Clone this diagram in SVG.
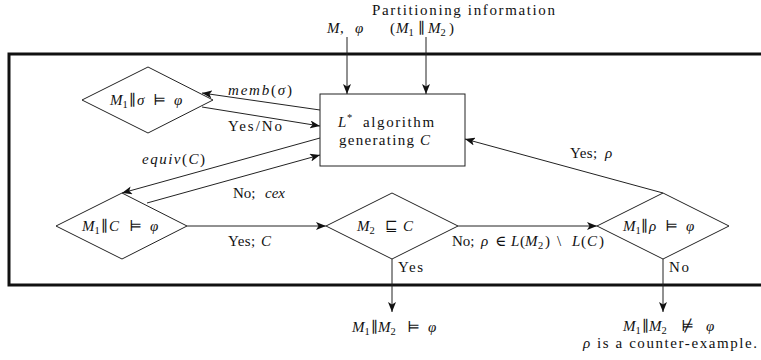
<svg xmlns="http://www.w3.org/2000/svg" width="761" height="360" viewBox="0 0 761 360">
<style>
text{font-family:'Liberation Serif','Times New Roman','DejaVu Serif',serif;font-size:15px;fill:#111}
.i{font-style:italic}
.s{font-size:10.5px}
.shape{fill:#fff;stroke:#222;stroke-width:1}
.conn line{stroke:#222;stroke-width:1;marker-end:url(#ah)}
</style>
<defs>
<marker id="ah" markerUnits="userSpaceOnUse" markerWidth="12" markerHeight="8" refX="10" refY="4" orient="auto">
<path d="M0,0 L10,4 L0,8 L2.5,4 z" fill="#111"/>
</marker>
</defs>
<rect id="frame" x="9" y="54" width="800" height="231" fill="none" stroke="#111" stroke-width="3"/>
<g id="inputs">
<text x="372" y="15" textLength="183" lengthAdjust="spacing">Partitioning information</text>
<text y="33"><tspan x="390">(</tspan><tspan class="i" x="396">M</tspan><tspan class="s" x="408.5" y="36">1</tspan><tspan x="418" y="33">∥</tspan><tspan class="i" x="428">M</tspan><tspan class="s" x="440.5" y="36">2</tspan><tspan x="449" y="33">)</tspan></text>
<text y="33"><tspan class="i" x="327">M</tspan><tspan x="340">,</tspan><tspan class="i" x="355">φ</tspan></text>
</g>
<g id="lstar">
<rect class="shape" x="320" y="94" width="145" height="72"/>
<text y="127"><tspan class="i" x="338">L</tspan><tspan class="s" x="347" y="121">*</tspan><tspan x="363" y="127" letter-spacing="1.6">algorithm</tspan></text>
<text y="145"><tspan x="339" letter-spacing="1.3">generating</tspan><tspan class="i" x="420">C</tspan></text>
</g>
<g id="memb-check">
<polygon class="shape" points="82,100 148,67 213,100 148,133"/>
<text y="105"><tspan class="i" x="110">M</tspan><tspan class="s" x="122.5" y="108">1</tspan><tspan x="129" y="105">∥</tspan><tspan class="i" x="137">σ</tspan><tspan x="153">⊨</tspan><tspan class="i" x="174">φ</tspan></text>
</g>
<g id="equiv-check">
<polygon class="shape" points="56,226 122,193 187,226 122,259"/>
<text y="231"><tspan class="i" x="82">M</tspan><tspan class="s" x="94.5" y="234">1</tspan><tspan x="101" y="231">∥</tspan><tspan class="i" x="109">C</tspan><tspan x="129">⊨</tspan><tspan class="i" x="150">φ</tspan></text>
</g>
<g id="m2-check">
<polygon class="shape" points="326,226 392,193 458,226 392,259"/>
<text y="231"><tspan class="i" x="357">M</tspan><tspan class="s" x="369.5" y="234">2</tspan><tspan x="385" y="231">⊑</tspan><tspan class="i" x="403">C</tspan></text>
</g>
<g id="rho-check">
<polygon class="shape" points="597,226 663,193 729,226 663,259"/>
<text y="231"><tspan class="i" x="623">M</tspan><tspan class="s" x="635.5" y="234">1</tspan><tspan x="641" y="231">∥</tspan><tspan class="i" x="649">ρ</tspan><tspan x="665">⊨</tspan><tspan class="i" x="686">φ</tspan></text>
</g>
<g class="conn" id="connectors">
<line x1="347" y1="37" x2="347" y2="94"/>
<line x1="426" y1="37" x2="426" y2="94"/>
<line x1="320" y1="110" x2="202" y2="93"/>
<line x1="202" y1="107" x2="320" y2="126"/>
<line x1="320" y1="138" x2="122" y2="193"/>
<line x1="147" y1="203" x2="320" y2="155"/>
<line x1="187" y1="226" x2="326" y2="226"/>
<line x1="458" y1="226" x2="597" y2="226"/>
<line x1="663" y1="193" x2="465" y2="139"/>
<line x1="392" y1="259" x2="392" y2="312"/>
<line x1="663" y1="259" x2="663" y2="312"/>
</g>
<g id="labels">
<text x="228" y="95" textLength="64" lengthAdjust="spacing"><tspan class="i">memb</tspan>(<tspan class="i">σ</tspan>)</text>
<text x="228" y="131" textLength="54" lengthAdjust="spacing">Yes/No</text>
<text x="142" y="164" textLength="63" lengthAdjust="spacing"><tspan class="i">equiv</tspan>(<tspan class="i">C</tspan>)</text>
<text y="198"><tspan x="233">No;</tspan><tspan class="i" x="265">cex</tspan></text>
<text y="246"><tspan x="228" letter-spacing="0.4">Yes;</tspan><tspan class="i" x="261">C</tspan></text>
<text y="246"><tspan x="452">No;</tspan><tspan class="i" x="481">ρ</tspan><tspan x="495">∈</tspan><tspan class="i" x="511">L</tspan><tspan x="520">(</tspan><tspan class="i" x="525">M</tspan><tspan class="s" x="538" y="249">2</tspan><tspan x="545" y="246">)</tspan><tspan x="557">\</tspan><tspan class="i" x="572">L</tspan><tspan x="581">(</tspan><tspan class="i" x="587">C</tspan><tspan x="599">)</tspan></text>
<text y="158"><tspan x="570" letter-spacing="0.4">Yes;</tspan><tspan class="i" x="605">ρ</tspan></text>
<text x="398" y="272" textLength="25" lengthAdjust="spacing">Yes</text>
<text x="669" y="272" textLength="20" lengthAdjust="spacing">No</text>
</g>
<g id="results">
<text y="332"><tspan class="i" x="352">M</tspan><tspan class="s" x="364.5" y="335">1</tspan><tspan x="371" y="332">∥</tspan><tspan class="i" x="378">M</tspan><tspan class="s" x="390.5" y="335">2</tspan><tspan x="407" y="332">⊨</tspan><tspan class="i" x="428">φ</tspan></text>
<text y="331"><tspan class="i" x="623">M</tspan><tspan class="s" x="635.5" y="334">1</tspan><tspan x="642" y="331">∥</tspan><tspan class="i" x="649">M</tspan><tspan class="s" x="661.5" y="334">2</tspan><tspan x="681" y="331">⊭</tspan><tspan class="i" x="706">φ</tspan></text>
<text x="583" y="348" textLength="174" lengthAdjust="spacing"><tspan class="i">ρ</tspan> is a counter-example.</text>
</g>
</svg>
